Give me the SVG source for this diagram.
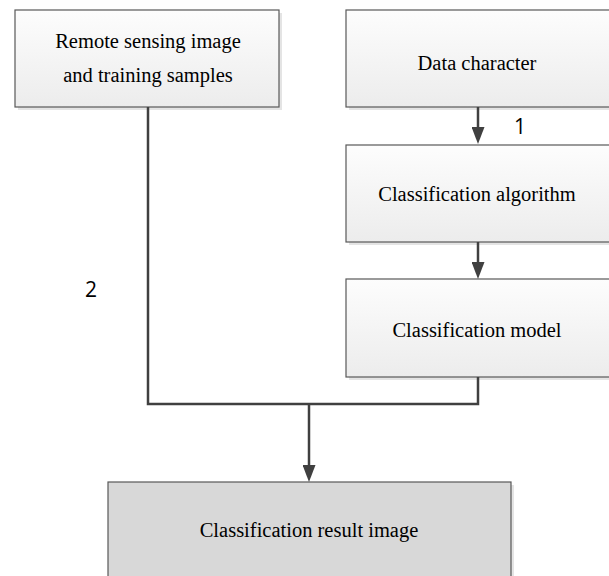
<svg xmlns="http://www.w3.org/2000/svg" width="609" height="576" viewBox="0 0 609 576">
  <defs>
    <linearGradient id="boxFill" x1="0" y1="0" x2="0" y2="1">
      <stop offset="0" stop-color="#fdfdfd"/>
      <stop offset="1" stop-color="#ececec"/>
    </linearGradient>
    <!-- filled arrowhead; the line stops 8px short of the tip -->
    <marker id="arrow" viewBox="0 0 17 13" refX="9" refY="6.5" markerUnits="userSpaceOnUse" markerWidth="17" markerHeight="13" orient="auto">
      <path d="M0,0 L17,6.5 L0,13 Z" fill="#404040"/>
    </marker>
  </defs>
  <style>
    .box { fill: url(#boxFill); stroke: #595959; stroke-width: 1.2; }
    .result { fill: #d8d8d8; stroke: #595959; stroke-width: 1.2; }
    .shadow { fill: #e4e4e4; }
    .label { font-family: "Liberation Serif", "Times New Roman", serif; font-size: 20.5px; fill: #000; text-anchor: middle; }
    .num { font-family: "Open Sans", "Liberation Sans", sans-serif; font-size: 21px; fill: #000; }
    .conn { fill: none; stroke: #404040; stroke-width: 2.5; }
  </style>

  <!-- input data box -->
  <g id="input">
    <rect class="shadow" x="18" y="13" width="264" height="97"/>
    <rect class="box" x="15" y="10" width="264" height="97"/>
    <text class="label" x="148" y="48">Remote sensing image</text>
    <text class="label" x="148" y="82">and training samples</text>
  </g>

  <g id="data-character">
    <rect class="shadow" x="349" y="13" width="270" height="97"/>
    <rect class="box" x="346" y="10" width="270" height="97"/>
    <text class="label" x="477" y="70">Data character</text>
  </g>

  <g id="algorithm">
    <rect class="shadow" x="349" y="148" width="270" height="97"/>
    <rect class="box" x="346" y="145" width="270" height="97"/>
    <text class="label" x="477" y="201">Classification algorithm</text>
  </g>

  <g id="model">
    <rect class="shadow" x="349" y="282" width="270" height="98"/>
    <rect class="box" x="346" y="279" width="270" height="98"/>
    <text class="label" x="477" y="337">Classification model</text>
  </g>

  <g id="result">
    <rect class="shadow" x="111" y="485" width="403" height="100"/>
    <rect class="result" x="108" y="482" width="403" height="100"/>
    <text class="label" x="309" y="537">Classification result image</text>
  </g>

  <!-- flow connectors -->
  <g id="connectors">
    <line class="conn" x1="478" y1="107" x2="478" y2="136" marker-end="url(#arrow)"/>
    <line class="conn" x1="478" y1="242" x2="478" y2="271" marker-end="url(#arrow)"/>
    <polyline class="conn" points="148,107 148,404 478,404 478,377"/>
    <line class="conn" x1="309" y1="404" x2="309" y2="474" marker-end="url(#arrow)"/>
    <text class="num" x="514" y="134">1</text>
    <text class="num" x="85" y="297">2</text>
  </g>
</svg>
